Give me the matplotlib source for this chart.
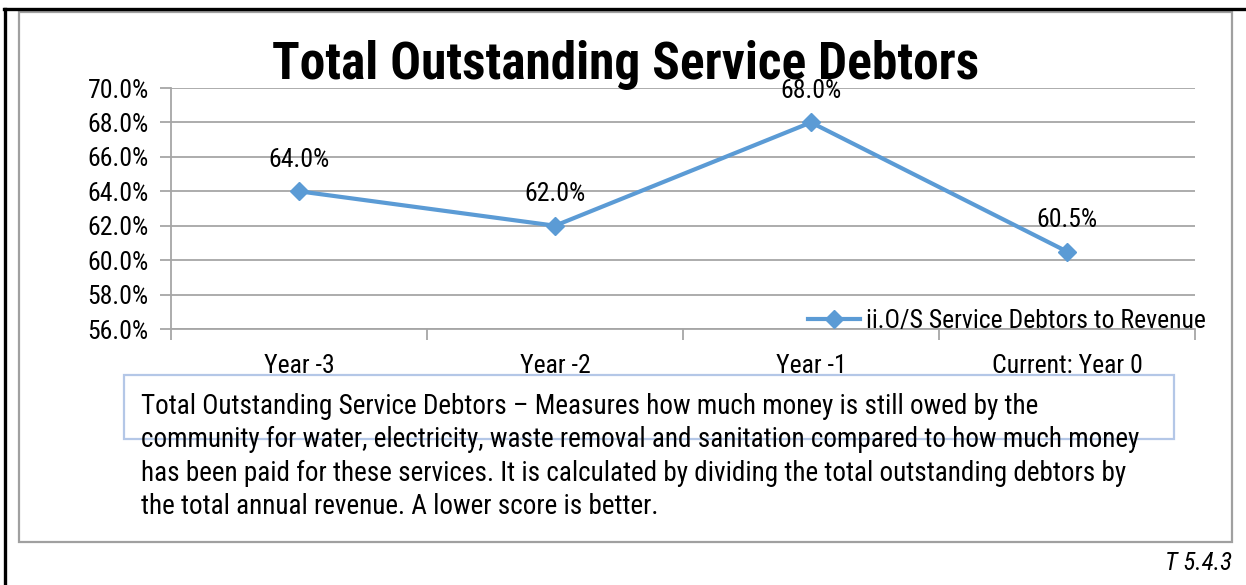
import matplotlib
matplotlib.use("Agg")
from matplotlib import pyplot as plt
from matplotlib.lines import Line2D
from matplotlib.patches import Rectangle

plt.rcParams["font.family"] = ["Arial Narrow", "Liberation Sans Narrow", "Roboto Condensed",
                               "PT Sans Narrow", "Archivo Narrow", "DejaVu Sans"]

categories = ["Year -3", "Year -2", "Year -1", "Current: Year 0"]
debtors_ratio = [64.0, 62.0, 68.0, 60.5]
series_name = "ii.O/S Service Debtors to Revenue"
title = "Total Outstanding Service Debtors"
note = (
    "Total Outstanding Service Debtors \u2013 Measures how much money is still owed by the\n"
    "community for water, electricity, waste removal and sanitation compared to how much money\n"
    "has been paid for these services. It is calculated by dividing the total outstanding debtors by\n"
    "the total annual revenue. A lower score is better."
)
table_ref = "T 5.4.3"

W, H = 1246, 585
BLUE = "#5b9bd5"
GRID = "#a6a6a6"


def px(x, y):
    # pixel position from the top-left corner -> figure fraction
    return x / W, 1 - y / H


fig = plt.figure(figsize=(W / 100, H / 100), dpi=100)

# outer page frame (top and left edges) and chart border
fig.add_artist(Line2D([4 / W, 1], [1 - 9 / H] * 2, color="black", lw=2.4))
fig.add_artist(Line2D([5 / W] * 2, [0, 1 - 9 / H], color="black", lw=2.4))
fig.add_artist(Rectangle(px(19, 542), (1232 - 19) / W, (542 - 12) / H,
                         fill=False, edgecolor="#a0a0a0", lw=1.6))

ax = fig.add_axes([171 / W, 1 - 329 / H, (1195 - 171) / W, (329 - 88) / H])
x = range(len(categories))
ax.plot(x, debtors_ratio, color=BLUE, lw=3, marker="D", markersize=9,
        label=series_name, zorder=3)
for xi, v in zip(x, debtors_ratio):
    ax.annotate(f"{v:.1f}%", (xi, v), xytext=(0, 22.5), textcoords="offset points",
                ha="center", va="center", fontsize=18.5)

ax.set_ylim(56, 70)
ax.set_yticks(range(56, 71, 2))
ax.set_yticklabels([f"{t:.1f}%" for t in range(56, 71, 2)])
ax.set_xlim(-0.5, 3.5)
ax.set_xticks(list(x))
ax.set_xticklabels(categories)
ax.set_xticks([i - 0.5 for i in range(len(categories) + 1)], minor=True)
ax.tick_params(axis="x", which="major", length=0, pad=18, labelsize=18.5)
ax.tick_params(axis="x", which="minor", length=8, color=GRID, width=1.3)
ax.tick_params(axis="y", length=8, color=GRID, width=1.3, pad=8, labelsize=18.5)
ax.grid(axis="y", color=GRID, lw=1.3)
ax.set_axisbelow(True)
for side in ["top", "right"]:
    ax.spines[side].set_visible(False)
for side in ["left", "bottom"]:
    ax.spines[side].set_color(GRID)
    ax.spines[side].set_linewidth(1.3)
ax.patch.set_alpha(0)

ax.legend(loc="center right", bbox_to_anchor=px(1206, 321), bbox_transform=fig.transFigure,
          frameon=False, fontsize=18.5, handlelength=2.0, handletextpad=0.25,
          borderpad=0, borderaxespad=0)

fig.text(*px(626, 65), title, ha="center", va="center", fontsize=37, fontweight="bold")

# explanatory note box
fig.add_artist(Rectangle(px(124, 439), (1174 - 124) / W, (439 - 375) / H,
                         fill=False, edgecolor="#b4c7e7", lw=1.6))
fig.text(*px(141, 393), note, ha="left", va="top", fontsize=19.5, linespacing=1.3)

fig.text(*px(1232, 563), table_ref, ha="right", va="center", fontsize=18, style="italic")

fig.savefig("out.png", dpi=100)
